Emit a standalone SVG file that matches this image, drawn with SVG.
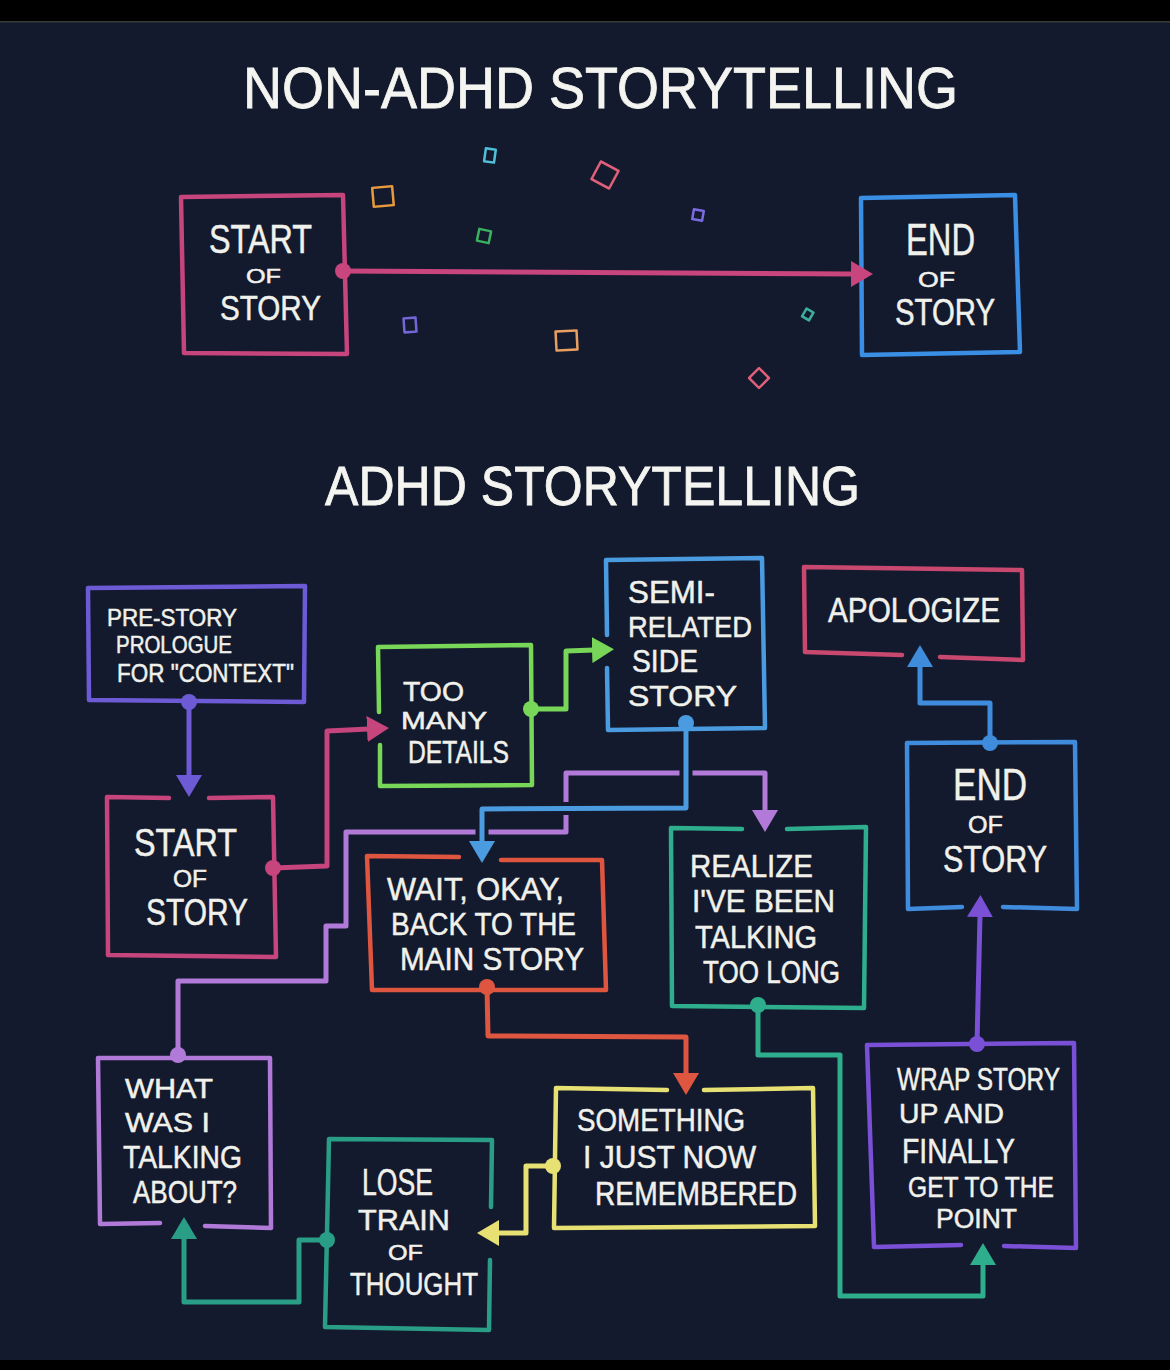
<svg xmlns="http://www.w3.org/2000/svg" width="1170" height="1370" viewBox="0 0 1170 1370">
<defs>
<style>
.bg{fill:#131a2d}
.box{fill:none;stroke-width:4.5;stroke-linecap:round;stroke-linejoin:round}
.t{font-family:"Liberation Sans",Arial,sans-serif;font-weight:400;fill:#f1f1ec;stroke:#f1f1ec;stroke-width:0.5}
.title{font-family:"Liberation Sans",Arial,sans-serif;font-weight:400;fill:#f4f4f0;stroke:#f4f4f0;stroke-width:0.8}
.con{fill:none;stroke-width:5;stroke-linecap:round;stroke-linejoin:round}
.bridge{fill:none;stroke:#131a2d;stroke-width:13;stroke-linejoin:round}
.conf{fill:none;stroke-width:2.5;stroke-linejoin:round}
</style>
<marker id="a-pink" viewBox="0 0 22 26" markerWidth="22" markerHeight="26" refX="2" refY="13" orient="auto" markerUnits="userSpaceOnUse"><path d="M0,0 L22,13 L0,26 z" fill="#c8457d"/></marker>
<marker id="a-pink2" viewBox="0 0 22 26" markerWidth="22" markerHeight="26" refX="2" refY="13" orient="auto" markerUnits="userSpaceOnUse"><path d="M0,0 L22,13 L0,26 z" fill="#c5457c"/></marker>
<marker id="a-prol" viewBox="0 0 22 26" markerWidth="22" markerHeight="26" refX="2" refY="13" orient="auto" markerUnits="userSpaceOnUse"><path d="M0,0 L22,13 L0,26 z" fill="#6c5bd4"/></marker>
<marker id="a-green" viewBox="0 0 22 26" markerWidth="22" markerHeight="26" refX="2" refY="13" orient="auto" markerUnits="userSpaceOnUse"><path d="M0,0 L22,13 L0,26 z" fill="#78d658"/></marker>
<marker id="a-blue" viewBox="0 0 22 26" markerWidth="22" markerHeight="26" refX="2" refY="13" orient="auto" markerUnits="userSpaceOnUse"><path d="M0,0 L22,13 L0,26 z" fill="#4a9be0"/></marker>
<marker id="a-blue2" viewBox="0 0 22 26" markerWidth="22" markerHeight="26" refX="2" refY="13" orient="auto" markerUnits="userSpaceOnUse"><path d="M0,0 L22,13 L0,26 z" fill="#3f8bdc"/></marker>
<marker id="a-lav" viewBox="0 0 22 26" markerWidth="22" markerHeight="26" refX="2" refY="13" orient="auto" markerUnits="userSpaceOnUse"><path d="M0,0 L22,13 L0,26 z" fill="#b27ad8"/></marker>
<marker id="a-orange" viewBox="0 0 22 26" markerWidth="22" markerHeight="26" refX="2" refY="13" orient="auto" markerUnits="userSpaceOnUse"><path d="M0,0 L22,13 L0,26 z" fill="#df5640"/></marker>
<marker id="a-teal" viewBox="0 0 22 26" markerWidth="22" markerHeight="26" refX="2" refY="13" orient="auto" markerUnits="userSpaceOnUse"><path d="M0,0 L22,13 L0,26 z" fill="#2eae8d"/></marker>
<marker id="a-teal2" viewBox="0 0 22 26" markerWidth="22" markerHeight="26" refX="2" refY="13" orient="auto" markerUnits="userSpaceOnUse"><path d="M0,0 L22,13 L0,26 z" fill="#2a9d86"/></marker>
<marker id="a-yellow" viewBox="0 0 22 26" markerWidth="22" markerHeight="26" refX="2" refY="13" orient="auto" markerUnits="userSpaceOnUse"><path d="M0,0 L22,13 L0,26 z" fill="#e7e073"/></marker>
<marker id="a-purple" viewBox="0 0 22 26" markerWidth="22" markerHeight="26" refX="2" refY="13" orient="auto" markerUnits="userSpaceOnUse"><path d="M0,0 L22,13 L0,26 z" fill="#7a50d6"/></marker>
</defs>

<rect x="0" y="0" width="1170" height="1370" class="bg"/>
<rect x="0" y="0" width="1170" height="21" fill="#000"/>
<rect x="0" y="21" width="1170" height="1.5" fill="#3a3a3a"/>
<rect x="0" y="1360" width="1170" height="10" fill="#000"/>

<text class="title" x="243" y="108" font-size="57" textLength="715" lengthAdjust="spacingAndGlyphs">NON-ADHD  STORYTELLING</text>
<text class="title" x="325" y="505" font-size="56" textLength="535" lengthAdjust="spacingAndGlyphs">ADHD  STORYTELLING</text>

<g id="confetti">
<rect class="conf" stroke="#4fc0d8" x="485" y="149" width="10" height="13" transform="rotate(8 490 155)"/>
<rect class="conf" stroke="#e0607a" x="595" y="165" width="20" height="20" transform="rotate(28 605 175)"/>
<rect class="conf" stroke="#e89a3c" x="373" y="187" width="20" height="19" transform="rotate(-5 383 197)"/>
<rect class="conf" stroke="#7a6be0" x="693" y="210" width="10" height="10" transform="rotate(10 698 215)"/>
<rect class="conf" stroke="#3db060" x="478" y="230" width="12" height="12" transform="rotate(12 484 236)"/>
<rect class="conf" stroke="#7566d8" x="404" y="318" width="12" height="14" transform="rotate(-4 410 325)"/>
<rect class="conf" stroke="#e8a060" x="556" y="331" width="21" height="19" transform="rotate(-3 566 340)"/>
<rect class="conf" stroke="#3bb0a0" x="804" y="310" width="8" height="9" transform="rotate(30 808 314)"/>
<rect class="conf" stroke="#e0607a" x="752" y="371" width="14" height="14" transform="rotate(45 759 378)"/>
</g>

<g id="top-start">
<path class="box" stroke="#c6457d" d="M181,197 L343,195 L347,354 L184,353 Z"/>
<text class="t" x="209" y="253" font-size="40" textLength="103" lengthAdjust="spacingAndGlyphs">START</text>
<text class="t" x="246" y="283" font-size="21" textLength="35" lengthAdjust="spacingAndGlyphs">OF</text>
<text class="t" x="220" y="320" font-size="35" textLength="101" lengthAdjust="spacingAndGlyphs">STORY</text>
</g>
<g id="top-end">
<path class="box" stroke="#3a8ee4" d="M861,198 L1015,195 L1020,352 L862,355 Z"/>
<text class="t" x="906" y="255" font-size="44" textLength="69" lengthAdjust="spacingAndGlyphs">END</text>
<text class="t" x="918" y="287" font-size="22" textLength="37" lengthAdjust="spacingAndGlyphs">OF</text>
<text class="t" x="895" y="325" font-size="36" textLength="100" lengthAdjust="spacingAndGlyphs">STORY</text>
</g>

<g id="prologue">
<path class="box" stroke="#6c5bd4" d="M88,588 L305,586 L304,702 L89,700 Z"/>
<text class="t" x="107" y="626" font-size="24" textLength="130" lengthAdjust="spacingAndGlyphs">PRE-STORY</text>
<text class="t" x="116" y="653" font-size="23" textLength="116" lengthAdjust="spacingAndGlyphs">PROLOGUE</text>
<text class="t" x="117" y="682" font-size="26" textLength="177" lengthAdjust="spacingAndGlyphs">FOR "CONTEXT"</text>
</g>
<g id="start">
<path class="box" stroke="#c5457c" d="M169,798 L107,797 L108,955 L276,957 L273,797 L209,798"/>
<text class="t" x="134" y="856" font-size="38" textLength="103" lengthAdjust="spacingAndGlyphs">START</text>
<text class="t" x="173" y="887" font-size="24" textLength="34" lengthAdjust="spacingAndGlyphs">OF</text>
<text class="t" x="146" y="925" font-size="36" textLength="102" lengthAdjust="spacingAndGlyphs">STORY</text>
</g>
<g id="too-many">
<path class="box" stroke="#78d658" d="M379,712 L378,647 L531,645 L532,785 L380,786 L380,745"/>
<text class="t" x="403" y="701" font-size="28" textLength="61" lengthAdjust="spacingAndGlyphs">TOO</text>
<text class="t" x="401" y="729" font-size="24" textLength="86" lengthAdjust="spacingAndGlyphs">MANY</text>
<text class="t" x="408" y="763" font-size="31" textLength="101" lengthAdjust="spacingAndGlyphs">DETAILS</text>
</g>
<g id="semi">
<path class="box" stroke="#4a9be0" d="M607,635 L606,560 L762,558 L765,728 L608,730 L607,668"/>
<text class="t" x="628" y="603" font-size="31" textLength="87" lengthAdjust="spacingAndGlyphs">SEMI-</text>
<text class="t" x="628" y="637" font-size="30" textLength="124" lengthAdjust="spacingAndGlyphs">RELATED</text>
<text class="t" x="632" y="672" font-size="31" textLength="66" lengthAdjust="spacingAndGlyphs">SIDE</text>
<text class="t" x="628" y="706" font-size="30" textLength="109" lengthAdjust="spacingAndGlyphs">STORY</text>
</g>
<g id="apologize">
<path class="box" stroke="#c9486f" d="M902,655 L805,652 L804,567 L1022,570 L1023,660 L940,657"/>
<text class="t" x="828" y="622" font-size="35" textLength="172" lengthAdjust="spacingAndGlyphs">APOLOGIZE</text>
</g>
<g id="end">
<path class="box" stroke="#3f8bdc" d="M962,907 L908,909 L907,743 L1075,742 L1077,909 L1003,907"/>
<text class="t" x="953" y="800" font-size="44" textLength="74" lengthAdjust="spacingAndGlyphs">END</text>
<text class="t" x="968" y="833" font-size="24" textLength="35" lengthAdjust="spacingAndGlyphs">OF</text>
<text class="t" x="943" y="872" font-size="37" textLength="104" lengthAdjust="spacingAndGlyphs">STORY</text>
</g>
<g id="wait">
<path class="box" stroke="#df5640" d="M459,857 L367,856 L372,990 L606,990 L602,860 L501,860"/>
<text class="t" x="387" y="900" font-size="32" textLength="177" lengthAdjust="spacingAndGlyphs">WAIT, OKAY,</text>
<text class="t" x="391" y="935" font-size="31" textLength="185" lengthAdjust="spacingAndGlyphs">BACK TO THE</text>
<text class="t" x="400" y="970" font-size="31" textLength="184" lengthAdjust="spacingAndGlyphs">MAIN STORY</text>
</g>
<g id="realize">
<path class="box" stroke="#2eae8d" d="M742,829 L671,828 L672,1006 L864,1008 L866,827 L787,829"/>
<text class="t" x="690" y="877" font-size="32" textLength="123" lengthAdjust="spacingAndGlyphs">REALIZE</text>
<text class="t" x="692" y="912" font-size="31" textLength="143" lengthAdjust="spacingAndGlyphs">I'VE BEEN</text>
<text class="t" x="695" y="948" font-size="32" textLength="122" lengthAdjust="spacingAndGlyphs">TALKING</text>
<text class="t" x="703" y="983" font-size="31" textLength="137" lengthAdjust="spacingAndGlyphs">TOO LONG</text>
</g>
<g id="what">
<path class="box" stroke="#b27ad8" d="M160,1223 L100,1224 L98,1058 L270,1058 L271,1228 L205,1226"/>
<text class="t" x="125" y="1098" font-size="28" textLength="88" lengthAdjust="spacingAndGlyphs">WHAT</text>
<text class="t" x="125" y="1132" font-size="28" textLength="85" lengthAdjust="spacingAndGlyphs">WAS I</text>
<text class="t" x="123" y="1168" font-size="32" textLength="119" lengthAdjust="spacingAndGlyphs">TALKING</text>
<text class="t" x="133" y="1203" font-size="31" textLength="104" lengthAdjust="spacingAndGlyphs">ABOUT?</text>
</g>
<g id="lose">
<path class="box" stroke="#2a9d86" d="M491,1207 L492,1140 L329,1139 L325,1327 L489,1330 L490,1260"/>
<text class="t" x="362" y="1195" font-size="36" textLength="71" lengthAdjust="spacingAndGlyphs">LOSE</text>
<text class="t" x="358" y="1230" font-size="30" textLength="92" lengthAdjust="spacingAndGlyphs">TRAIN</text>
<text class="t" x="388" y="1260" font-size="22" textLength="35" lengthAdjust="spacingAndGlyphs">OF</text>
<text class="t" x="350" y="1295" font-size="32" textLength="128" lengthAdjust="spacingAndGlyphs">THOUGHT</text>
</g>
<g id="something">
<path class="box" stroke="#e7e073" d="M667,1090 L556,1088 L554,1228 L815,1226 L813,1088 L704,1090"/>
<text class="t" x="577" y="1131" font-size="32" textLength="168" lengthAdjust="spacingAndGlyphs">SOMETHING</text>
<text class="t" x="583" y="1168" font-size="31" textLength="173" lengthAdjust="spacingAndGlyphs">I JUST NOW</text>
<text class="t" x="595" y="1205" font-size="33" textLength="202" lengthAdjust="spacingAndGlyphs">REMEMBERED</text>
</g>
<g id="wrap">
<path class="box" stroke="#7a50d6" d="M961,1245 L874,1247 L867,1045 L1074,1043 L1076,1248 L1004,1246"/>
<text class="t" x="897" y="1090" font-size="32" textLength="163" lengthAdjust="spacingAndGlyphs">WRAP STORY</text>
<text class="t" x="899" y="1123" font-size="28" textLength="105" lengthAdjust="spacingAndGlyphs">UP AND</text>
<text class="t" x="902" y="1163" font-size="35" textLength="113" lengthAdjust="spacingAndGlyphs">FINALLY</text>
<text class="t" x="908" y="1197" font-size="29" textLength="146" lengthAdjust="spacingAndGlyphs">GET TO THE</text>
<text class="t" x="936" y="1228" font-size="27" textLength="81" lengthAdjust="spacingAndGlyphs">POINT</text>
</g>

<g id="connectors">
<path class="con" stroke="#c8457d" d="M343,271 L853,274" marker-end="url(#a-pink)"/>
<circle cx="343" cy="271" r="8" fill="#c8457d"/>

<path class="con" stroke="#6c5bd4" d="M189,702 L189,777" marker-end="url(#a-prol)"/>
<circle cx="189" cy="702" r="8" fill="#6c5bd4"/>

<path class="con" stroke="#c5457c" d="M273,868 L327,866 L327,731 L369,729" marker-end="url(#a-pink2)"/>
<circle cx="273" cy="868" r="8" fill="#c5457c"/>

<path class="con" stroke="#78d658" d="M531,709 L566,709 L566,651 L594,650" marker-end="url(#a-green)"/>
<circle cx="531" cy="709" r="8" fill="#78d658"/>

<path class="con" stroke="#b27ad8" d="M178,1055 L178,981 L326,981 L326,926 L346,926 L346,832 L566,832 L566,773 L765,773 L765,812" marker-end="url(#a-lav)"/>
<circle cx="178" cy="1055" r="8" fill="#b27ad8"/>

<path class="bridge" d="M686,733 L686,808 L482,809 L482,838"/>
<path class="con" stroke="#4a9be0" d="M686,723 L686,808 L482,809 L482,843" marker-end="url(#a-blue)"/>
<circle cx="686" cy="723" r="8" fill="#4a9be0"/>

<path class="con" stroke="#df5640" d="M487,987 L488,1036 L686,1037 L686,1075" marker-end="url(#a-orange)"/>
<circle cx="487" cy="987" r="8" fill="#df5640"/>

<path class="con" stroke="#2eae8d" d="M758,1005 L758,1055 L840,1055 L840,1296 L983,1296 L983,1263" marker-end="url(#a-teal)"/>
<circle cx="758" cy="1005" r="8" fill="#2eae8d"/>

<path class="con" stroke="#e7e073" d="M553,1166 L526,1166 L526,1233 L497,1233" marker-end="url(#a-yellow)"/>
<circle cx="553" cy="1166" r="8" fill="#e7e073"/>

<path class="con" stroke="#2a9d86" d="M327,1240 L299,1240 L299,1302 L184,1302 L184,1237" marker-end="url(#a-teal2)"/>
<circle cx="327" cy="1240" r="8" fill="#2a9d86"/>

<path class="con" stroke="#7a50d6" d="M977,1044 L980,915" marker-end="url(#a-purple)"/>
<circle cx="977" cy="1044" r="8" fill="#7a50d6"/>

<path class="con" stroke="#3f8bdc" d="M990,743 L990,703 L920,703 L920,665" marker-end="url(#a-blue2)"/>
<circle cx="990" cy="743" r="8" fill="#3f8bdc"/>
</g>
</svg>
